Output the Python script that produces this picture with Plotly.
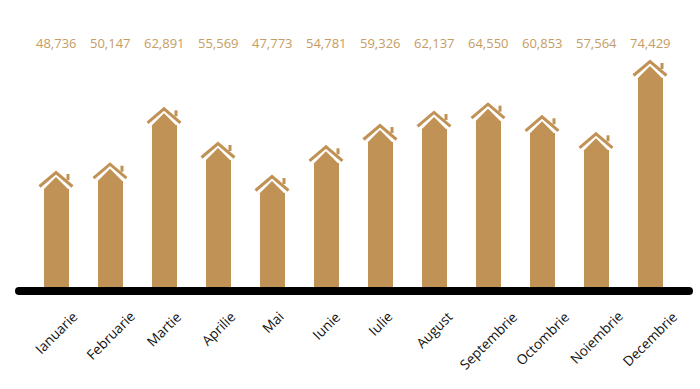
import plotly.graph_objects as go

months = ["Ianuarie", "Februarie", "Martie", "Aprilie", "Mai", "Iunie", "Iulie",
          "August", "Septembrie", "Octombrie", "Noiembrie", "Decembrie"]
# Values printed above the houses
values = [48736, 50147, 62891, 55569, 47773, 54781, 59326, 62137, 64550, 60853, 57564, 74429]
# Drawn height of each house (differs slightly from the printed value)
house_tops = [48736, 50660, 63480, 55450, 47810, 54690, 59620, 62630, 64550, 61630, 57700, 74430]

AXIS_BASE = 21900
Y_MIN, Y_MAX = -1731, 88323
X_MIN, X_MAX = -56 / 54, (700 - 56) / 54
PX_Y = (Y_MAX - Y_MIN) / 389
PX_X = (X_MAX - X_MIN) / 700
GOLD = "#C19255"
LABEL_GOLD = "#C59C64"
FONT = "Open Sans, sans-serif"

xs = list(range(len(months)))
fig = go.Figure()

# House bodies
fig.add_trace(go.Bar(
    x=xs,
    y=[v - 18 * PX_Y - AXIS_BASE for v in house_tops],
    base=AXIS_BASE,
    width=25 * PX_X,
    marker=dict(color=GOLD, line=dict(width=0)),
    hoverinfo="skip",
))

for i, v in zip(xs, house_tops):
    # Gable on top of the body
    fig.add_trace(go.Scatter(
        x=[i - 12.5 * PX_X, i, i + 12.5 * PX_X],
        y=[v - 18.5 * PX_Y, v - 6 * PX_Y, v - 18.5 * PX_Y],
        mode="lines", fill="toself", fillcolor=GOLD,
        line=dict(width=0, color=GOLD), hoverinfo="skip",
    ))
    # Roof
    fig.add_trace(go.Scatter(
        x=[i - 16.5 * PX_X, i, i + 16.5 * PX_X],
        y=[v - 15.5 * PX_Y, v - 1.5 * PX_Y, v - 15.5 * PX_Y],
        mode="lines", line=dict(width=3, color=GOLD), hoverinfo="skip",
    ))
    # Chimney
    fig.add_trace(go.Scatter(
        x=[i + 12 * PX_X, i + 12 * PX_X],
        y=[v - 3 * PX_Y, v - 9 * PX_Y],
        mode="lines", line=dict(width=3, color=GOLD), hoverinfo="skip",
    ))

# Thick black baseline with rounded ends
base_y = AXIS_BASE - 4 * PX_Y
fig.add_trace(go.Scatter(
    x=[X_MIN + 19 * PX_X, X_MAX - 11 * PX_X],
    y=[base_y, base_y],
    mode="lines+markers",
    line=dict(width=8, color="#000000"),
    marker=dict(size=8, color="#000000", line=dict(width=0)),
    hoverinfo="skip",
))

annotations = []
for i, (m, v) in enumerate(zip(months, values)):
    annotations.append(dict(
        x=i, y=1 - 43 / 389, xref="x", yref="paper",
        text=f"{v:,}", showarrow=False, xanchor="center", yanchor="middle",
        font=dict(family=FONT, size=13, color=LABEL_GOLD),
    ))
    annotations.append(dict(
        x=i, y=1 - 306 / 389, xref="x", yref="paper",
        text=m, showarrow=False, xanchor="center", yanchor="top", textangle=-45,
        borderpad=0, font=dict(family=FONT, size=13.7, color="#111111"),
    ))

fig.update_layout(
    width=700, height=389,
    margin=dict(l=0, r=0, t=0, b=0),
    paper_bgcolor="white", plot_bgcolor="white",
    showlegend=False, bargap=0,
    xaxis=dict(range=[X_MIN, X_MAX], visible=False, fixedrange=True),
    yaxis=dict(range=[Y_MIN, Y_MAX], visible=False, fixedrange=True),
    annotations=annotations,
)

fig.write_html(
    "out.html",
    config={"displayModeBar": False},
    post_script="document.body.style.margin='0';document.body.style.overflow='hidden';",
)
